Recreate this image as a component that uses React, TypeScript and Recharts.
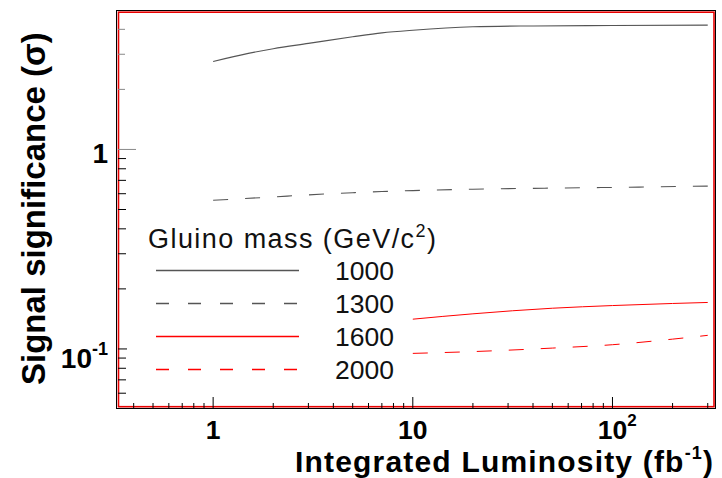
import { LineChart, Line, XAxis, YAxis, Legend, ReferenceArea } from 'recharts';

// integrated luminosity (fb^-1) and signal significance (sigma)
const lumi1000 = [1, 1.5, 2, 3, 5, 7, 10, 20, 40, 100, 300];
const sig1000 = [2.76, 3.03, 3.2, 3.4, 3.67, 3.84, 3.96, 4.12, 4.16, 4.18, 4.2];
const lumi1300 = [1, 2, 3, 5, 7, 10, 20, 50, 100, 300];
const sig1300 = [0.556, 0.578, 0.592, 0.607, 0.615, 0.622, 0.632, 0.64, 0.645, 0.655];
const lumi1600 = [10, 20, 50, 100, 200, 300];
const sig1600 = [0.141, 0.15, 0.16, 0.165, 0.169, 0.171];
const lumi2000 = [10, 20, 50, 100, 200, 300];
const sig2000 = [0.095, 0.097, 0.101, 0.105, 0.112, 0.117];

const masses = ['1000', '1300', '1600', '2000'];

const xTicks = [0.4, 0.5, 0.6, 0.7, 0.8, 0.9, 1, 2, 3, 4, 5, 6, 7, 8, 9, 10, 20, 30, 40, 50, 60, 70, 80, 90, 100, 200, 300];
const xMajor = [1, 10, 100];
const xMajorBase = ['1', '10', '10'];
const xMajorExp = ['', '', '2'];

const yTicks = [0.06, 0.07, 0.08, 0.09, 0.1, 0.2, 0.3, 0.4, 0.5, 0.6, 0.7, 0.8, 0.9, 1, 2, 3, 4];
const yMajor = [0.1, 1];
const yMajorBase = ['10', '1'];
const yMajorExp = ['-1', ''];

const FONT = '"Liberation Sans", Arial, Helvetica, sans-serif';
const GRAY = '#555555';
const RED = '#ff0000';
const DASH = '15 17';
const seriesColor = [GRAY, GRAY, RED, RED];
const seriesDashed = [false, true, false, true];

const pairs = (xs: number[], ys: number[]) => xs.map((lumi, i) => ({ lumi, sig: ys[i] }));

function XTick({ x, y, payload }: any) {
  const v = payload.value;
  const i = xMajor.indexOf(v);
  const len = i >= 0 ? 11 : 5;
  const baseW = i >= 0 ? xMajorBase[i].length * 0.556 * 26.5 : 0;
  return (
    <g>
      <line x1={x} x2={x} y1={y - 1} y2={y - 1 - len} stroke="#000" strokeWidth={1} />
      {i >= 0 && (
        <text x={x} y={y + 30} textAnchor="middle" fontSize={26.5} fontWeight="bold" fontFamily={FONT} fill="#000">
          {xMajorBase[i]}
        </text>
      )}
      {i >= 0 && xMajorExp[i] && (
        <text x={x + baseW / 2} y={y + 17} fontSize={17} fontWeight="bold" fontFamily={FONT} fill="#000">
          {xMajorExp[i]}
        </text>
      )}
    </g>
  );
}

function YTick({ x, y, payload }: any) {
  const v = payload.value;
  const i = yMajor.indexOf(v);
  const len = v === 1 ? 18 : v === 0.1 ? 9 : v > 1 ? 7 : 8;
  const stroke = v >= 1 ? '#888' : '#000';
  return (
    <g>
      <line x1={x + 1} x2={x + 1 + len} y1={y} y2={y} stroke={stroke} strokeWidth={1} />
      {i >= 0 && (
        <text x={x - 9} y={y + (yMajorExp[i] ? 19 : 14)} textAnchor="end" fontSize={28} fontWeight="bold" fontFamily={FONT} fill="#000">
          {yMajorBase[i]}
          {yMajorExp[i] && (
            <tspan dy={-13} fontSize={18}>
              {yMajorExp[i]}
            </tspan>
          )}
        </text>
      )}
    </g>
  );
}

function YTitle({ viewBox }: any) {
  const tx = viewBox.x + 45;
  const ty = viewBox.y + viewBox.height - 24;
  return (
    <text x={tx} y={ty} transform={`rotate(-90 ${tx} ${ty})`} fontSize={33} fontWeight="bold" fontFamily={FONT} fill="#000">
      Signal significance (σ)
    </text>
  );
}

function XTitle({ viewBox }: any) {
  const tx = viewBox.x + viewBox.width - 3;
  const ty = viewBox.y + 63;
  return (
    <text x={tx} y={ty} textAnchor="end" fontSize={30} fontWeight="bold" fontFamily={FONT} fill="#000" textLength={418} lengthAdjust="spacing">
      Integrated Luminosity (fb
      <tspan dy={-13} fontSize={18}>-1</tspan>
      <tspan dy={13}>)</tspan>
    </text>
  );
}

function Frame({ x, y, width, height }: any) {
  return (
    <g>
      <rect x={x - 0.5} y={y + 0.5} width={width} height={height - 1} fill="none" stroke="#000" strokeWidth={1} />
      <rect x={x + 1.5} y={y + 2.2} width={width - 3.5} height={height - 4.5} fill="none" stroke="#e80000" strokeWidth={1.6} />
    </g>
  );
}

function GluinoLegend() {
  return (
    <svg width={310} height={165} style={{ display: 'block', overflow: 'visible' }}>
      <text x={8} y={23} fontSize={27} fontFamily={FONT} fill="#111" textLength={288} lengthAdjust="spacing">
        Gluino mass (GeV/c
        <tspan dy={-11} fontSize={18}>2</tspan>
        <tspan dy={11}>)</tspan>
      </text>
      {masses.map((m, i) => {
        const ly = 45.5 + i * 33;
        return (
          <g key={m}>
            <line
              x1={16}
              x2={159}
              y1={ly}
              y2={ly}
              stroke={seriesColor[i]}
              strokeWidth={1.3}
              strokeDasharray={seriesDashed[i] ? '13 19' : undefined}
            />
            <text x={195} y={ly + 9.5} fontSize={26.5} fontFamily={FONT} fill="#111">
              {m}
            </text>
          </g>
        );
      })}
    </svg>
  );
}

export default function App() {
  return (
    <div style={{ position: 'absolute', left: 0, top: 0, width: 722, height: 478, background: '#fff' }}>
      <LineChart width={722} height={478} margin={{ top: 10, right: 6, bottom: 0, left: 0 }}>
        <XAxis
          dataKey="lumi"
          type="number"
          scale="log"
          domain={[0.33, 330]}
          allowDataOverflow
          ticks={xTicks}
          interval={0}
          tick={<XTick />}
          tickLine={false}
          axisLine={false}
          tickSize={0}
          tickMargin={0}
          height={69}
          label={(props: any) => <XTitle {...props} />}
        />
        <YAxis
          type="number"
          scale="log"
          domain={[0.05, 5]}
          allowDataOverflow
          ticks={yTicks}
          interval={0}
          tick={<YTick />}
          tickLine={false}
          axisLine={false}
          tickSize={0}
          tickMargin={0}
          width={117}
          label={(props: any) => <YTitle {...props} />}
        />
        <ReferenceArea x1={0.33} x2={330} y1={0.05} y2={5} shape={(props: any) => <Frame {...props} />} />
        <Line data={pairs(lumi1000, sig1000)} dataKey="sig" name={masses[0]} type="monotone" stroke={seriesColor[0]} strokeWidth={1.1} dot={false} isAnimationActive={false} />
        <Line data={pairs(lumi1300, sig1300)} dataKey="sig" name={masses[1]} type="monotone" stroke={seriesColor[1]} strokeWidth={1.1} strokeDasharray={DASH} dot={false} isAnimationActive={false} />
        <Line data={pairs(lumi1600, sig1600)} dataKey="sig" name={masses[2]} type="monotone" stroke={seriesColor[2]} strokeWidth={1} dot={false} isAnimationActive={false} />
        <Line data={pairs(lumi2000, sig2000)} dataKey="sig" name={masses[3]} type="monotone" stroke={seriesColor[3]} strokeWidth={1} strokeDasharray={DASH} dot={false} isAnimationActive={false} />
        <Legend
          layout="horizontal"
          verticalAlign="middle"
          align="center"
          wrapperStyle={{ left: 140, top: 225, width: 310, height: 165 }}
          content={() => <GluinoLegend />}
        />
      </LineChart>
    </div>
  );
}
